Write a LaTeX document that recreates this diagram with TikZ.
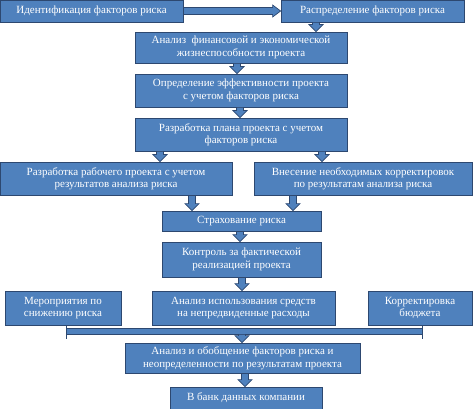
\documentclass[tikz,border=0pt]{standalone}
\usepackage{fontspec}
\setmainfont{Liberation Serif}
\usetikzlibrary{calc}
\definecolor{boxblue}{RGB}{79,129,189}
\definecolor{boxedge}{RGB}{45,72,112}

\begin{document}
\begin{tikzpicture}[x=1pt,y=-1pt,
    box/.style={draw=boxedge,fill=boxblue,line width=0.8pt,text=white,align=center,inner sep=1pt,font=\fontsize{11}{12.5}\selectfont},
    darrow/.style={draw=boxedge,fill=boxblue,line width=0.7pt,
        to path={let \p1=(\tikztostart),\p2=(\tikztotarget) in
            (\x1-3.5pt,\y1) -- (\x1+3.5pt,\y1) -- (\x1+3.5pt,\y2+7pt) -- (\x1+7pt,\y2+7pt)
            -- (\x1,\y2) -- (\x1-7pt,\y2+7pt) -- (\x1-3.5pt,\y2+7pt) -- cycle}},
    harrow/.style={draw=boxedge,fill=boxblue,line width=0.7pt,
        to path={let \p1=(\tikztostart),\p2=(\tikztotarget) in
            (\x1,\y1+3.5pt) -- (\x2-8pt,\y1+3.5pt) -- (\x2-8pt,\y1+6pt) -- (\x2,\y1)
            -- (\x2-8pt,\y1-6pt) -- (\x2-8pt,\y1-3.5pt) -- (\x1,\y1-3.5pt) -- cycle}}]

    \useasboundingbox (0,0) rectangle (474,409);

    \node[box,minimum width=183pt,minimum height=22pt] (r1) at (91.5,11) {Идентификация факторов риска};
    \node[box,minimum width=183pt,minimum height=22pt] (r2) at (372.5,11) {Распределение факторов риска};
    \node[box,minimum width=212pt,minimum height=31pt] (r3) at (241,47.5) {Анализ \ финансовой и экономической\\жизнеспособности проекта};
    \node[box,minimum width=212pt,minimum height=33pt] (r4) at (241,90.5) {Определение эффективности проекта\\с учетом факторов риска};
    \node[box,minimum width=212pt,minimum height=33pt] (r5) at (241,134.5) {Разработка плана проекта с учетом\\факторов риска};
    \node[box,minimum width=232pt,minimum height=33pt] (r6) at (116,178.5) {Разработка рабочего проекта с учетом\\результатов анализа риска};
    \node[box,minimum width=218pt,minimum height=33pt] (r7) at (363,178.5) {Внесение необходимых корректировок\\по результатам анализа риска};
    \node[box,minimum width=159pt,minimum height=20pt] (r8) at (241.5,221) {Страхование риска};
    \node[box,minimum width=159pt,minimum height=35pt] (r9) at (241.5,259.5) {Контроль за фактической\\реализацией проекта};
    \node[box,minimum width=116pt,minimum height=34pt] (r10) at (63,308) {Мероприятия по\\снижению риска};
    \node[box,minimum width=183pt,minimum height=34pt] (r11) at (243.5,308) {Анализ использования средств\\на непредвиденные расходы};
    \node[box,minimum width=104pt,minimum height=34pt] (r12) at (420,308) {Корректировка\\бюджета};
    \node[draw=boxedge,fill=boxblue,line width=0.7pt,minimum width=356pt,minimum height=6pt,inner sep=0pt] (bar) at (244.5,331) {};
    \node[box,minimum width=235pt,minimum height=30pt] (r13) at (242.5,358) {Анализ и обобщение факторов риска и\\неопределенности по результатам проекта};
    \node[box,minimum width=152pt,minimum height=22pt] (r14) at (246,398) {В банк данных компании};

    \draw[harrow] (r1.east) to (r2.west);
    \foreach \a/\b/\xx in {r2/r3/316,r3/r4/237,r4/r5/240,r5/r6/160,r5/r7/322,r6/r8/192,r7/r8/293,r8/r9/240,r9/r11/242,bar/r13/242,r13/r14/245}
        \draw[darrow] (\xx,0 |- \a.south) to (\xx,0 |- \b.north);

    \draw[boxedge,line width=1pt] (bar.west |- r10.south) -- ([yshift=-5pt]bar.south west);
    \draw[boxedge,line width=1pt] (bar.east |- r12.south) -- ([yshift=-5pt]bar.south east);
\end{tikzpicture}
\end{document}
